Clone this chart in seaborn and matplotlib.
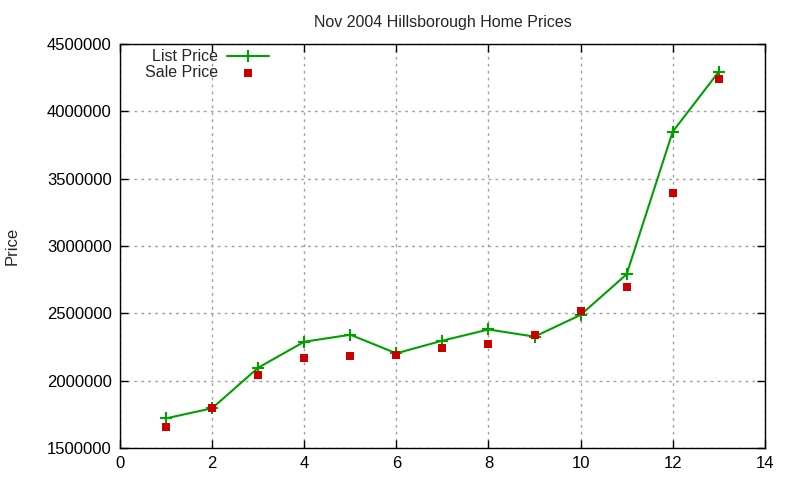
import matplotlib
matplotlib.use("Agg")
import matplotlib.pyplot as plt
import seaborn as sns
import pandas as pd

# data
house = [1, 2, 3, 4, 5, 6, 7, 8, 9, 10, 11, 12, 13]
list_price = [1720000, 1795000, 2096000, 2289000, 2341000, 2203000, 2297000,
              2380000, 2327000, 2488000, 2790000, 3849000, 4294000]
sale_price = [1658000, 1800000, 2044000, 2171000, 2185000, 2193000, 2245000,
              2275000, 2341000, 2520000, 2698000, 3396000, 4243000]

x_ticks = [0, 2, 4, 6, 8, 10, 12, 14]
y_ticks = [1500000, 2000000, 2500000, 3000000, 3500000, 4000000, 4500000]

df = pd.DataFrame({"house": house, "list": list_price, "sale": sale_price})

sns.set_style("ticks")
plt.rcParams["font.family"] = ["Liberation Sans", "DejaVu Sans"]

fig = plt.figure(figsize=(8, 4.8), dpi=100)
ax = fig.add_axes([0.15, 0.0667, 0.806, 0.8416])

green = "#00a000"
red = "#cc0000"

sns.lineplot(data=df, x="house", y="list", ax=ax, color=green, linewidth=1.5,
             marker="+", markersize=9, markeredgewidth=1.5,
             markeredgecolor=green, label="List Price")
sns.scatterplot(data=df, x="house", y="sale", ax=ax, color=red, marker="s",
                s=36, linewidth=0, label="Sale Price", zorder=3)

ax.set_xlim(0, 14)
ax.set_ylim(1500000, 4500000)
ax.set_xticks(x_ticks)
ax.set_yticks(y_ticks)
ax.set_xticklabels([str(t) for t in x_ticks])
ax.set_yticklabels([str(t) for t in y_ticks])
ax.tick_params(direction="in", top=True, right=True, length=6, width=1,
               labelsize=12, pad=6, colors="black")

for side in ax.spines.values():
    side.set_visible(True)
    side.set_color("black")
    side.set_linewidth(1)

ax.grid(True, color="#a0a0a0", linestyle=(0, (2, 3)), linewidth=1)
ax.set_axisbelow(True)

ax.set_xlabel("")
ax.set_ylabel("Price", fontsize=12)
ax.yaxis.set_label_coords(-0.155, 0.5)
ax.set_title("Nov 2004 Hillsborough Home Prices", fontsize=11.5, pad=12)

leg = ax.legend(loc="upper left", bbox_to_anchor=(0.029, 1.003), frameon=False,
                markerfirst=False, fontsize=11.5, handlelength=2.65,
                handletextpad=0.55, labelspacing=0.05, borderaxespad=0)

fig.savefig("out.png", dpi=100)
